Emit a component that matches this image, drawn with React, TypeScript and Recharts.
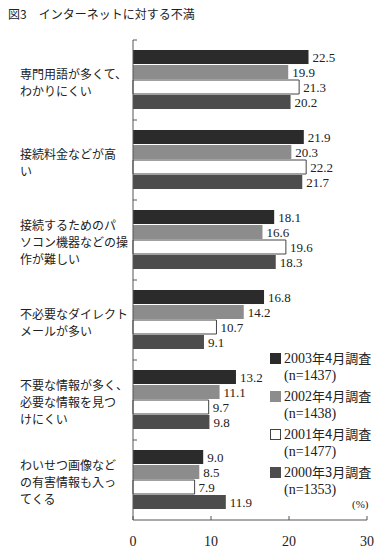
import { BarChart, Bar, XAxis, YAxis, LabelList } from 'recharts';

const categories = [
  ['専門用語が多くて、', 'わかりにくい'],
  ['接続料金などが高', 'い'],
  ['接続するためのパ', 'ソコン機器などの操', '作が難しい'],
  ['不必要なダイレクト', 'メールが多い'],
  ['不要な情報が多く、', '必要な情報を見つ', 'けにくい'],
  ['わいせつ画像など', 'の有害情報も入っ', 'てくる'],
];

const s2003 = [22.5, 21.9, 18.1, 16.8, 13.2, 9.0];
const s2002 = [19.9, 20.3, 16.6, 14.2, 11.1, 8.5];
const s2001 = [21.3, 22.2, 19.6, 10.7, 9.7, 7.9];
const s2000 = [20.2, 21.7, 18.3, 9.1, 9.8, 11.9];

const seriesNames = ['2003年4月調査', '2002年4月調査', '2001年4月調査', '2000年3月調査'];
const sampleSizes = ['(n=1437)', '(n=1438)', '(n=1477)', '(n=1353)'];
const xTicks = [0, 10, 20, 30];

const colors = ['#2b2b2b', '#8c8c8c', '#ffffff', '#4d4d4d'];
const keys = ['y2003', 'y2002', 'y2001', 'y2000'];

const data = categories.map((lines, i) => ({
  name: lines.join(''),
  lines,
  y2003: s2003[i],
  y2002: s2002[i],
  y2001: s2001[i],
  y2000: s2000[i],
}));

const W = 387;
const H = 552;
const TOP = 40;
const BOTTOM = 520;
const band = (BOTTOM - TOP) / categories.length;

const jp = '"Noto Sans CJK JP", sans-serif';
const serif = '"Liberation Serif", "DejaVu Serif", serif';

const CategoryTick = (props: any) => {
  const { y, payload, index } = props;
  const lines: string[] = data[index]?.lines ?? [payload.value];
  const lh = 17;
  const start = y + 4 - ((lines.length - 1) * lh) / 2;
  return (
    <g>
      <line x1={133} x2={137} y1={y - band / 2} y2={y - band / 2} stroke="#555" />
      <text x={20} y={start} fontSize={12} fontFamily={jp} fill="#222" dominantBaseline="middle">
        {lines.map((l, k) => (
          <tspan key={k} x={20} y={start + k * lh}>
            {l}
          </tspan>
        ))}
      </text>
    </g>
  );
};

const LegendBox = () => (
  <div
    style={{
      position: 'absolute',
      left: 270,
      top: 349,
      fontFamily: serif,
      fontSize: 14,
      color: '#222',
      lineHeight: '17px',
    }}
  >
    {seriesNames.map((n, i) => (
      <div key={n} style={{ marginBottom: 3 }}>
        <div style={{ display: 'flex', alignItems: 'center' }}>
          <span
            style={{
              display: 'inline-block',
              width: 11,
              height: 11,
              background: colors[i],
              border: i === 2 ? '1px solid #444' : 'none',
              boxSizing: 'border-box',
              marginRight: 3,
            }}
          />
          <span>
            {n.slice(0, 4)}
            <span style={{ fontFamily: jp, fontSize: 13 }}>{n.slice(4)}</span>
          </span>
        </div>
        <div style={{ paddingLeft: 14 }}>{sampleSizes[i]}</div>
      </div>
    ))}
  </div>
);

export default function App() {
  return (
    <div style={{ position: 'absolute', left: 0, top: 0, width: W, height: H, background: '#fff' }}>
      <div
        style={{
          position: 'absolute',
          left: 8,
          top: 5,
          fontFamily: jp,
          fontSize: 12,
          color: '#222',
          whiteSpace: 'pre',
        }}
      >
        図3　インターネットに対する不満
      </div>
      <BarChart
        width={W}
        height={H}
        data={data}
        layout="vertical"
        margin={{ top: TOP, right: 20, bottom: 2, left: 0 }}
        barCategoryGap={10}
        barGap={1}
      >
        <XAxis
          type="number"
          domain={[0, 30]}
          ticks={xTicks}
          height={30}
          tickSize={-4}
          tickMargin={20}
          stroke="#555"
          tick={{ fontFamily: serif, fontSize: 14, fill: '#222' }}
        />
        <YAxis
          type="category"
          dataKey="name"
          width={133}
          tickLine={false}
          stroke="#555"
          tick={<CategoryTick />}
          interval={0}
        />
        {keys.map((k, i) => (
          <Bar
            key={k}
            dataKey={k}
            fill={colors[i]}
            stroke={i === 2 ? '#444' : 'none'}
            isAnimationActive={false}
          >
            <LabelList
              dataKey={k}
              position="right"
              offset={4}
              formatter={(v: any) => Number(v).toFixed(1)}
              style={{ fontFamily: serif, fontSize: 13, fill: '#222' }}
            />
          </Bar>
        ))}
      </BarChart>
      <LegendBox />
      <div style={{ position: 'absolute', left: 352, top: 498, fontFamily: serif, fontSize: 11, color: '#222' }}>
        (%)
      </div>
    </div>
  );
}
